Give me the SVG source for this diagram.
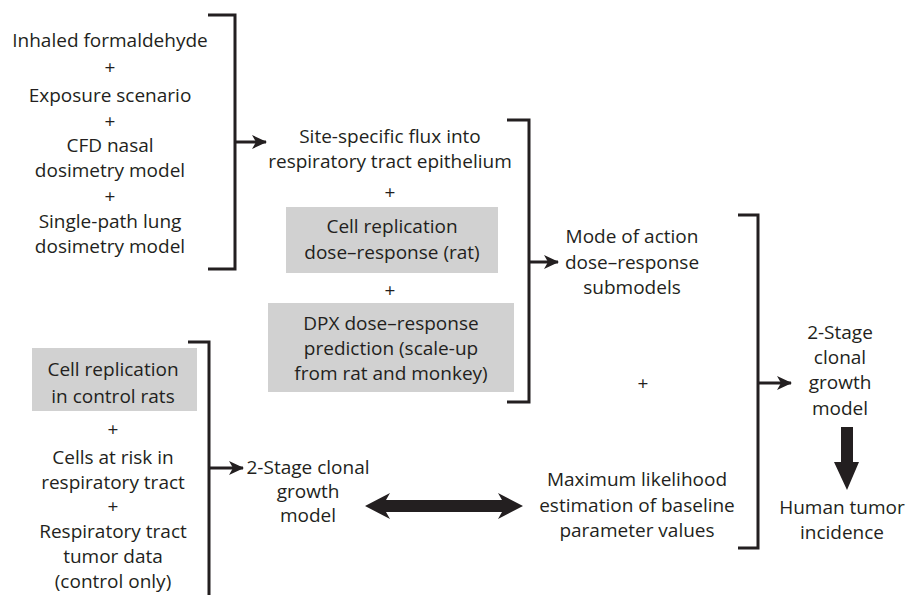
<svg xmlns="http://www.w3.org/2000/svg" width="909" height="595" viewBox="0 0 909 595">
  <defs>
    <style>
      text { font-family: "Open Sans", "Noto Sans", "Liberation Sans", sans-serif; font-size: 19px; fill: #231f20; text-anchor: middle; }
      .bracket { fill: none; stroke: #231f20; stroke-width: 3; }
      .link { fill: none; stroke: #231f20; stroke-width: 3; }
      .box { fill: #d1d1d1; }
      .solid { fill: #231f20; }
    </style>
    <marker id="head" markerWidth="15" markerHeight="14" refX="14" refY="7" orient="auto" markerUnits="userSpaceOnUse" viewBox="0 0 15 14">
      <path d="M0,0 L15,7 L0,14 L4,7 Z" fill="#231f20"/>
    </marker>
  </defs>
  <rect width="909" height="595" fill="#ffffff"/>

  <g id="inputs">
    <text x="110" y="47">Inhaled formaldehyde</text>
    <text x="110" y="74">+</text>
    <text x="110" y="102">Exposure scenario</text>
    <text x="110" y="128">+</text>
    <text x="110" y="152">CFD nasal</text>
    <text x="110" y="177">dosimetry model</text>
    <text x="110" y="203">+</text>
    <text x="110" y="228">Single-path lung</text>
    <text x="110" y="253">dosimetry model</text>
  </g>

  <g id="flux">
    <text x="390" y="143">Site-specific flux into</text>
    <text x="390" y="168">respiratory tract epithelium</text>
    <text x="390" y="199">+</text>
  </g>

  <g id="cell-replication-rat">
    <rect class="box" x="286" y="207" width="212" height="66"/>
    <text x="392" y="233">Cell replication</text>
    <text x="392" y="259">dose–response (rat)</text>
    <text x="390" y="297">+</text>
  </g>

  <g id="dpx">
    <rect class="box" x="268" y="303" width="246" height="89"/>
    <text x="391" y="330">DPX dose–response</text>
    <text x="391" y="355">prediction (scale-up</text>
    <text x="391" y="380">from rat and monkey)</text>
  </g>

  <g id="mode-of-action">
    <text x="632" y="243">Mode of action</text>
    <text x="632" y="269">dose–response</text>
    <text x="632" y="294">submodels</text>
  </g>

  <g id="plus-right">
    <text x="643" y="390">+</text>
  </g>

  <g id="control-data">
    <rect class="box" x="32" y="348" width="165" height="63"/>
    <text x="113" y="376">Cell replication</text>
    <text x="113" y="403">in control rats</text>
    <text x="113" y="436">+</text>
    <text x="113" y="464">Cells at risk in</text>
    <text x="113" y="489">respiratory tract</text>
    <text x="113" y="513">+</text>
    <text x="113" y="538">Respiratory tract</text>
    <text x="113" y="563">tumor data</text>
    <text x="113" y="588">(control only)</text>
  </g>

  <g id="baseline-model">
    <text x="308" y="474">2-Stage clonal</text>
    <text x="308" y="498">growth</text>
    <text x="308" y="522">model</text>
  </g>

  <g id="mle">
    <text x="637" y="486">Maximum likelihood</text>
    <text x="637" y="512">estimation of baseline</text>
    <text x="637" y="537">parameter values</text>
  </g>

  <g id="human-model">
    <text x="840" y="339">2-Stage</text>
    <text x="840" y="364">clonal</text>
    <text x="840" y="389">growth</text>
    <text x="840" y="415">model</text>
  </g>

  <g id="incidence">
    <text x="842" y="514">Human tumor</text>
    <text x="842" y="539">incidence</text>
  </g>

  <g id="connectors">
    <!-- brackets -->
    <path class="bracket" d="M208,15 H235 V269 H208"/>
    <path class="bracket" d="M507,120 H529 V402 H507"/>
    <path class="bracket" d="M738,215 H758 V548 H738"/>
    <path class="bracket" d="M188,342 H209 V595"/>
    <!-- single-headed arrows out of brackets -->
    <line class="link" x1="235" y1="142" x2="266" y2="142" marker-end="url(#head)"/>
    <line class="link" x1="529" y1="262" x2="558" y2="262" marker-end="url(#head)"/>
    <line class="link" x1="758" y1="383" x2="791" y2="383" marker-end="url(#head)"/>
    <line class="link" x1="209" y1="468" x2="243" y2="468" marker-end="url(#head)"/>
    <!-- thick two-way arrow -->
    <path class="solid" d="M365,506 L390,493 L386,500 H502 L498,493 L523,506 L498,519 L502,512 H386 L390,519 Z"/>
    <!-- thick down arrow -->
    <path class="solid" d="M841,427 H853 V462 H859 L847,490 L834,462 H841 Z"/>
  </g>
</svg>
